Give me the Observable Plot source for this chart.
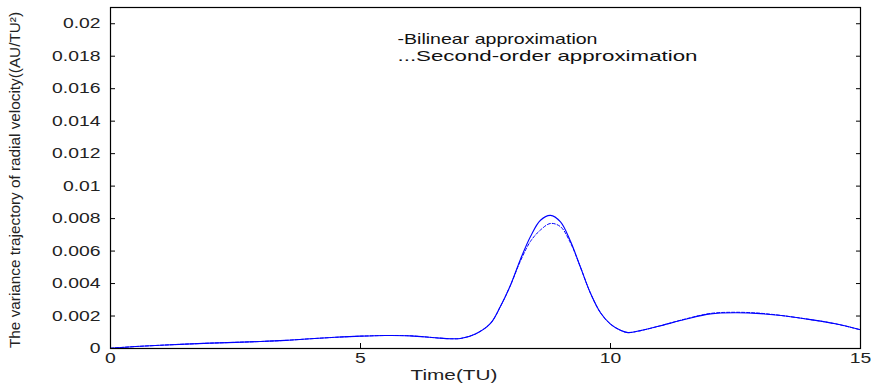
<!DOCTYPE html>
<html>
<head>
<meta charset="utf-8">
<script src="https://cdn.jsdelivr.net/npm/d3@7"></script>
<script src="https://cdn.jsdelivr.net/npm/@observablehq/plot@0.6"></script>
<style>
  html, body { margin: 0; padding: 0; background: #fff; }
  #chart svg { display: block; }
</style>
</head>
<body>
<div id="chart"></div>
<script>
const time = [0, 0.5, 1, 1.5, 2, 2.5, 3, 3.5, 4, 4.5, 5, 5.5, 6, 6.5, 6.8, 7.0, 7.3, 7.6, 7.8, 8.0, 8.2, 8.4, 8.6, 8.8, 9.0, 9.2, 9.4, 9.6, 9.8, 10.0, 10.2, 10.35, 10.6, 11.0, 11.5, 12.0, 12.5, 13.0, 13.5, 14.0, 14.5, 15.0];
const bilinear = [0.00002, 0.00012, 0.0002, 0.00027, 0.00033, 0.00038, 0.00043, 0.0005, 0.0006, 0.00069, 0.00076, 0.0008, 0.00078, 0.00066, 0.0006, 0.00062, 0.0009, 0.00155, 0.0026, 0.0039, 0.0055, 0.0069, 0.0079, 0.0082, 0.0078, 0.0066, 0.005, 0.0034, 0.0022, 0.0015, 0.00112, 0.00098, 0.0011, 0.0014, 0.0018, 0.00213, 0.0022, 0.00215, 0.002, 0.00178, 0.00152, 0.00115];
const secondOrder = [0.00002, 0.00012, 0.0002, 0.00027, 0.00033, 0.00038, 0.00043, 0.0005, 0.0006, 0.00069, 0.00076, 0.0008, 0.00078, 0.00066, 0.0006, 0.00062, 0.0009, 0.00155, 0.0026, 0.0039, 0.0054, 0.0066, 0.0073, 0.0077, 0.0075, 0.0065, 0.005, 0.0034, 0.0022, 0.0015, 0.00112, 0.00098, 0.0011, 0.0014, 0.00182, 0.00216, 0.00223, 0.00217, 0.002, 0.00178, 0.00152, 0.00115];
const xTicks = [0, 5, 10, 15];
const yTicks = [0, 0.002, 0.004, 0.006, 0.008, 0.01, 0.012, 0.014, 0.016, 0.018, 0.02];
const legendLabels = ["-Bilinear approximation", "...Second-order approximation"];
const xLabel = "Time(TU)";
const yLabel = "The variance trajectory of radial velocity((AU/TU\u00b2)";

const rowsB = time.map((t, i) => ({t, v: bilinear[i]}));
const rowsS = time.map((t, i) => ({t, v: secondOrder[i]}));

const font = "'Liberation Sans', Arial, sans-serif";
const chart = Plot.plot({
  width: 871,
  height: 388,
  marginLeft: 110,
  marginRight: 11,
  marginTop: 7,
  marginBottom: 40,
  style: {fontFamily: font, fontSize: "14px", color: "#000", background: "#fff"},
  x: {domain: [0, 15], label: null},
  y: {domain: [0, 0.021], label: null},
  marks: [
    Plot.line(rowsS, {x: "t", y: "v", stroke: "#0000ff", strokeWidth: 1, strokeDasharray: "3,2", curve: "catmull-rom"}),
    Plot.line(rowsB, {x: "t", y: "v", stroke: "#0000ff", strokeWidth: 1.1, curve: "catmull-rom"}),
    Plot.frame({stroke: "#000", strokeWidth: 1.2}),
    Plot.axisX({ticks: xTicks, tickSize: -5, text: null, stroke: "#000"}),
    Plot.axisX({ticks: xTicks, tickSize: 0, tickPadding: 5, fill: "#222", fontSize: 14, label: null, tickFormat: d => String(d)}),
    Plot.axisY({ticks: yTicks, tickSize: -5, text: null, stroke: "#000"}),
    Plot.axisY({ticks: yTicks, anchor: "right", tickSize: -5, text: null, stroke: "#000", label: null}),
    Plot.axisY({ticks: yTicks, tickSize: 0, tickPadding: 10, fill: "#222", fontSize: 14, label: null, tickFormat: d => d === 0 ? "0" : d3.format("~g")(d)}),
    Plot.text([legendLabels[0]], {text: d => d, frameAnchor: "top-left", dx: 287, dy: 32, textAnchor: "start", lineAnchor: "middle", fill: "#111", fontSize: 15}),
    Plot.text([legendLabels[1]], {text: d => d, frameAnchor: "top-left", dx: 287, dy: 49, textAnchor: "start", lineAnchor: "middle", fill: "#111", fontSize: 15}),
    Plot.text([xLabel], {text: d => d, frameAnchor: "bottom-left", dx: 300, dy: 31, textAnchor: "start", fill: "#222", fontSize: 15}),
    Plot.text([yLabel], {text: d => d, frameAnchor: "left", dx: -95, dy: 2, rotate: -90, textAnchor: "middle", fill: "#222", fontSize: 15})
  ]
});
document.getElementById("chart").appendChild(chart);

// stretch text widths to match the reference's wide rendering
const targets = new Map([
  [legendLabels[0], 200],
  [legendLabels[1], 300],
  [xLabel, 87],
  [yLabel, 336]
]);
chart.querySelectorAll("text").forEach(el => {
  const s = el.textContent;
  const w = el.getComputedTextLength();
  let target = targets.get(s);
  if (target === undefined && /^[0-9.]+$/.test(s)) target = w * 1.38;
  if (target !== undefined && w > 0) {
    el.setAttribute("textLength", target.toFixed(1));
    el.setAttribute("lengthAdjust", "spacingAndGlyphs");
  }
});
</script>
</body>
</html>
